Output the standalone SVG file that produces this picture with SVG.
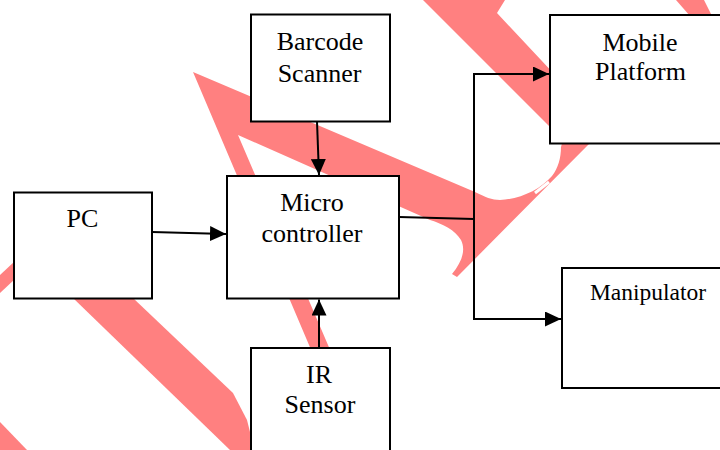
<svg xmlns="http://www.w3.org/2000/svg" width="720" height="450" viewBox="0 0 720 450">
<defs>
<style>
.wm{fill:#ff8080;stroke:none}
.box{fill:#fff;stroke:#000;stroke-width:2}
.lbl{font-family:"Liberation Serif","Times New Roman",serif;font-size:26px;text-anchor:middle;fill:#000}
.conn{fill:none;stroke:#000;stroke-width:2}
</style>
<marker id="arr" markerUnits="userSpaceOnUse" markerWidth="17" markerHeight="15" refX="16" refY="7.5" orient="auto">
<path d="M0,0 L16,7.5 L0,15 Z" fill="#000"/>
</marker>
</defs>
<rect width="720" height="450" fill="#fff"/>
<g id="watermark">
<path class="wm" d="M193,72 L475,192 C485,197 492,200 500,200 C520,199 540,190 552,176 C558,168 561,158 561,147 L563,140 L592,140 L590,143 L457,277 L452,274 C462,262 466,250 461,240 C455,230 443,224 430,220 L238,135 L331,352 L312,352 Z"/>
<path d="M535,193 L549,182" stroke="#fff" stroke-width="3"/>
<path class="wm" d="M423,0 L505,0 L497,13 L556,76 L556,133 Z"/>
<path class="wm" d="M676,0 L704,0 L712,16 L690,16 Z"/>
<path class="wm" d="M73,298 L133,298 L233,393 L247,420 L252,440 L252,450 L230,450 Z"/>
<path class="wm" d="M0,422 L0,450 L27,450 Z"/>
<path class="wm" d="M0,275 L15,261 L15,279 L0,293 Z"/>
</g>
<g id="barcode">
<rect class="box" x="251" y="14.5" width="139" height="107"/>
<text class="lbl" x="320" y="49.7">Barcode</text>
<text class="lbl" x="319.5" y="81.5">Scanner</text>
</g>
<g id="mobile">
<rect class="box" x="550" y="15" width="185" height="128.5"/>
<text class="lbl" x="640" y="50.5">Mobile</text>
<text class="lbl" x="640.5" y="80">Platform</text>
</g>
<g id="pc">
<rect class="box" x="14" y="192.5" width="138" height="106"/>
<text class="lbl" x="82.5" y="226.7">PC</text>
</g>
<g id="micro">
<rect class="box" x="227" y="176" width="172" height="122.5"/>
<text class="lbl" x="312" y="210.7">Micro</text>
<text class="lbl" x="312" y="242.3">controller</text>
</g>
<g id="manipulator">
<rect class="box" x="562" y="268" width="170" height="120"/>
<text class="lbl" x="648" y="300" style="font-size:23.5px">Manipulator</text>
</g>
<g id="ir">
<rect class="box" x="251" y="348" width="139" height="115"/>
<text class="lbl" x="319" y="382.7">IR</text>
<text class="lbl" x="320" y="413.3">Sensor</text>
</g>
<g id="connectors">
<path class="conn" d="M317,121.5 L319,175" marker-end="url(#arr)"/>
<path class="conn" d="M152,232 L226,234" marker-end="url(#arr)"/>
<path class="conn" d="M319,348 L319,299.5" marker-end="url(#arr)"/>
<path class="conn" d="M399,217 L474,219"/>
<path class="conn" d="M474,219 L474,74 L549,74" marker-end="url(#arr)"/>
<path class="conn" d="M474,219 L474,319 L561,319" marker-end="url(#arr)"/>
</g>
</svg>
